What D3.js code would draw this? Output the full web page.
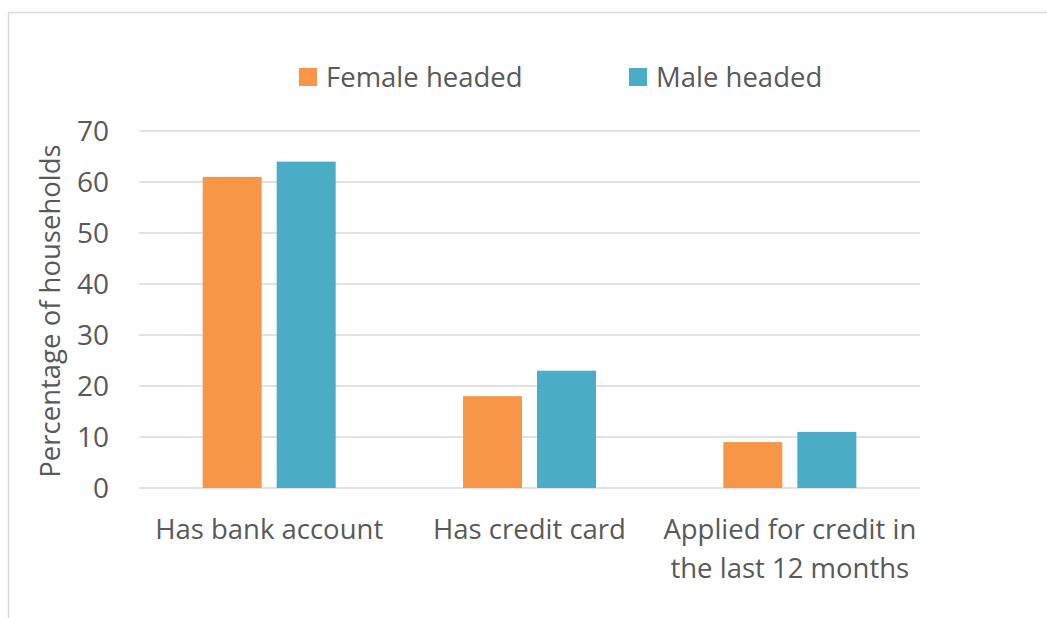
<!DOCTYPE html>
<html>
<head>
<meta charset="utf-8">
<script src="https://cdn.jsdelivr.net/npm/d3@7"></script>
<style>
  body { margin: 0; background: #fff; }
  text { font-family: "Open Sans", "Noto Sans", sans-serif; fill: #595959; }
</style>
</head>
<body>
<script>
const categories = [["Has bank account"], ["Has credit card"], ["Applied for credit in", "the last 12 months"]];
const seriesNames = ["Female headed", "Male headed"];
const female = [61, 18, 9];
const male = [64, 23, 11];
const yTicks = [0, 10, 20, 30, 40, 50, 60, 70];
const colors = ["#F79646", "#4BACC6"];

const W = 1047, H = 618;
const margin = {top: 131, right: 127, bottom: 130, left: 139};
const width = W - margin.left - margin.right;
const height = H - margin.top - margin.bottom;

const svg = d3.select("body").append("svg")
    .attr("width", W).attr("height", H);

// cadre
svg.append("rect")
    .attr("x", 8.5).attr("y", 12.5)
    .attr("width", W + 10).attr("height", H + 10)
    .attr("fill", "none").attr("stroke", "#d9d9d9").attr("stroke-width", 1.5);

const g = svg.append("g").attr("transform", `translate(${margin.left},${margin.top})`);

const x0 = d3.scaleBand().domain(d3.range(categories.length)).range([0, width]);
const x1 = d3.scaleBand().domain(d3.range(seriesNames.length))
    .range([0, x0.bandwidth()]).paddingInner(0.203).paddingOuter(0.86);
const y = d3.scaleLinear().domain([0, 70]).range([height, 0]);

// grille
g.append("g").selectAll("line").data(yTicks).join("line")
    .attr("x1", 0).attr("x2", width)
    .attr("y1", d => y(d)).attr("y2", d => y(d))
    .attr("stroke", "#d9d9d9").attr("stroke-width", 1.5);

// ticks
g.append("g").selectAll("text").data(yTicks).join("text")
    .attr("x", -30).attr("y", d => y(d)).attr("dy", "0.36em")
    .attr("text-anchor", "end").style("font-size", "28px")
    .text(d => d);

// barres
const series = [female, male];
series.forEach((vals, s) => {
    g.append("g").selectAll("rect").data(vals).join("rect")
        .attr("x", (d, i) => x0(i) + x1(s))
        .attr("width", x1.bandwidth())
        .attr("y", d => y(d))
        .attr("height", d => y(0) - y(d))
        .attr("fill", colors[s]);
});

// libellés catégories
const cat = g.append("g").selectAll("text").data(categories).join("text")
    .attr("x", (d, i) => x0(i) + x0.bandwidth() / 2)
    .attr("y", 539 - margin.top)
    .attr("text-anchor", "middle").style("font-size", "27.5px");
cat.selectAll("tspan").data(d => d).join("tspan")
    .attr("x", function() { return d3.select(this.parentNode).attr("x"); })
    .attr("dy", (d, i) => i === 0 ? 0 : 39)
    .text(d => d);

// titre axe y
svg.append("text")
    .attr("transform", `translate(60,311) rotate(-90)`)
    .attr("text-anchor", "middle").style("font-size", "27.5px")
    .text("Percentage of households");

// légende
const legendX = [299, 629];
const legend = svg.append("g").selectAll("g").data(seriesNames).join("g")
    .attr("transform", (d, i) => `translate(${legendX[i]},68)`);
legend.append("rect").attr("width", 18).attr("height", 18).attr("fill", (d, i) => colors[i]);
legend.append("text").attr("x", 27).attr("y", 19)
    .style("font-size", "27.5px").text(d => d);
</script>
</body>
</html>
